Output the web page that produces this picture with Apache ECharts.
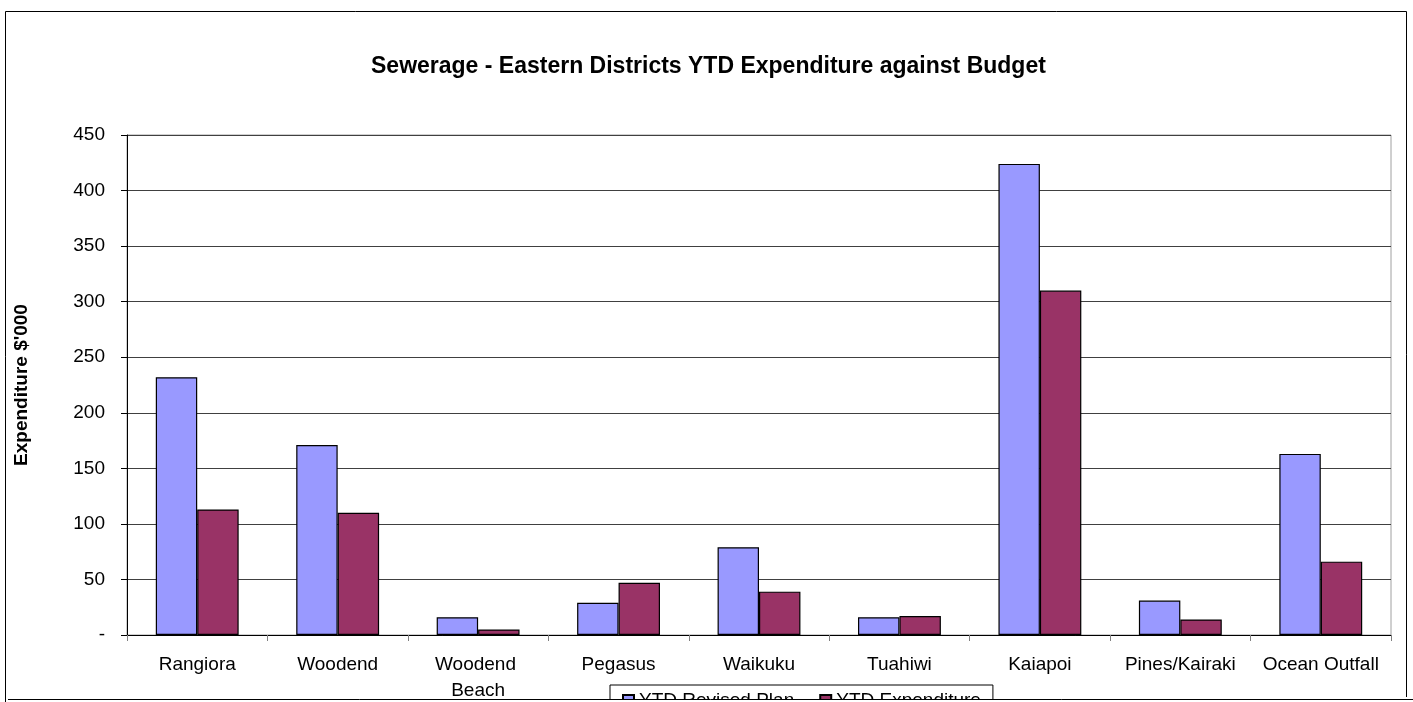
<!DOCTYPE html>
<html>
<head>
<meta charset="utf-8">
<script src="https://cdn.jsdelivr.net/npm/echarts@6/dist/echarts.min.js"></script>
<style>
html,body{margin:0;padding:0;background:#fff;}
#chart{width:1413px;height:702px;}
</style>
</head>
<body>
<div id="chart"></div>
<script>
var categories = ['Rangiora', 'Woodend', 'Woodend Beach', 'Pegasus', 'Waikuku', 'Tuahiwi', 'Kaiapoi', 'Pines/Kairaki', 'Ocean Outfall'];
var revisedPlan = [232, 171, 16, 29, 79, 16, 424, 31, 163];
var expenditure = [113, 110, 5, 47, 39, 17, 310, 14, 66];
var seriesNames = ['YTD Revised Plan', 'YTD Expenditure'];
var titleText = 'Sewerage - Eastern Districts YTD Expenditure against Budget';
var yAxisTitle = "Expenditure $'000";

var font = 'Liberation Sans, Arial, sans-serif';
var chart = echarts.init(document.getElementById('chart'), null, {renderer: 'canvas'});
chart.setOption({
  backgroundColor: '#ffffff',
  animation: false,
  title: {
    text: titleText,
    left: 366,
    top: 50,
    textStyle: {fontFamily: font, fontSize: 23, fontWeight: 'bold', color: '#000'}
  },
  legend: {
    data: seriesNames,
    left: 610,
    top: 685,
    padding: [6, 12, 5, 12],
    borderColor: '#000',
    borderWidth: 1,
    icon: 'rect',
    itemWidth: 11,
    itemHeight: 11,
    itemGap: 25,
    textStyle: {fontFamily: font, fontSize: 19, color: '#000'}
  },
  grid: {
    left: 127, right: 22, top: 135, bottom: 67,
    outerBoundsMode: 'none',
    containLabel: false,
    show: true, borderColor: '#a0a0a0', borderWidth: 1, backgroundColor: 'transparent'
  },
  xAxis: {
    type: 'category',
    data: categories,
    axisLine: {lineStyle: {color: '#000', width: 1}},
    axisTick: {show: true, length: 6, lineStyle: {color: '#808080'}},
    axisLabel: {
      interval: 0, margin: 17, fontFamily: font, fontSize: 19, color: '#000',
      width: 128, overflow: 'break', lineHeight: 26
    }
  },
  yAxis: {
    type: 'value',
    min: 0, max: 450, interval: 50,
    name: yAxisTitle,
    nameLocation: 'middle',
    nameGap: 96,
    nameTextStyle: {fontFamily: font, fontSize: 19, fontWeight: 'bold', color: '#000'},
    axisLine: {show: true, lineStyle: {color: '#000', width: 1}},
    axisTick: {show: true, length: 6, lineStyle: {color: '#000'}},
    axisLabel: {
      margin: 22, fontFamily: font, fontSize: 19, color: '#000',
      formatter: function (v) { return v === 0 ? '-' : String(v); }
    },
    splitLine: {show: true, lineStyle: {color: '#404040', width: 1}}
  },
  series: [
    {
      name: seriesNames[0], type: 'bar', data: revisedPlan,
      barGap: '0%', barCategoryGap: '41%',
      itemStyle: {color: '#9999FF', borderColor: '#000', borderWidth: 1.2}
    },
    {
      name: seriesNames[1], type: 'bar', data: expenditure,
      barGap: '0%', barCategoryGap: '41%',
      itemStyle: {color: '#993366', borderColor: '#000', borderWidth: 1.2}
    }
  ],
  graphic: [
    {type: 'rect', z: 100, shape: {x: 0, y: 699, width: 1413, height: 3}, style: {fill: '#fff'}},
    {type: 'line', z: 101, shape: {x1: 8, y1: 699.5, x2: 1413, y2: 699.5}, style: {stroke: '#000', lineWidth: 1}},
    {type: 'line', z: 101, shape: {x1: 5.5, y1: 11.5, x2: 1406.5, y2: 11.5}, style: {stroke: '#000', lineWidth: 1}},
    {type: 'line', z: 101, shape: {x1: 5.5, y1: 11.5, x2: 5.5, y2: 702}, style: {stroke: '#000', lineWidth: 1}},
    {type: 'line', z: 101, shape: {x1: 1406.5, y1: 11.5, x2: 1406.5, y2: 697}, style: {stroke: '#000', lineWidth: 1}}
  ]
});
</script>
</body>
</html>
